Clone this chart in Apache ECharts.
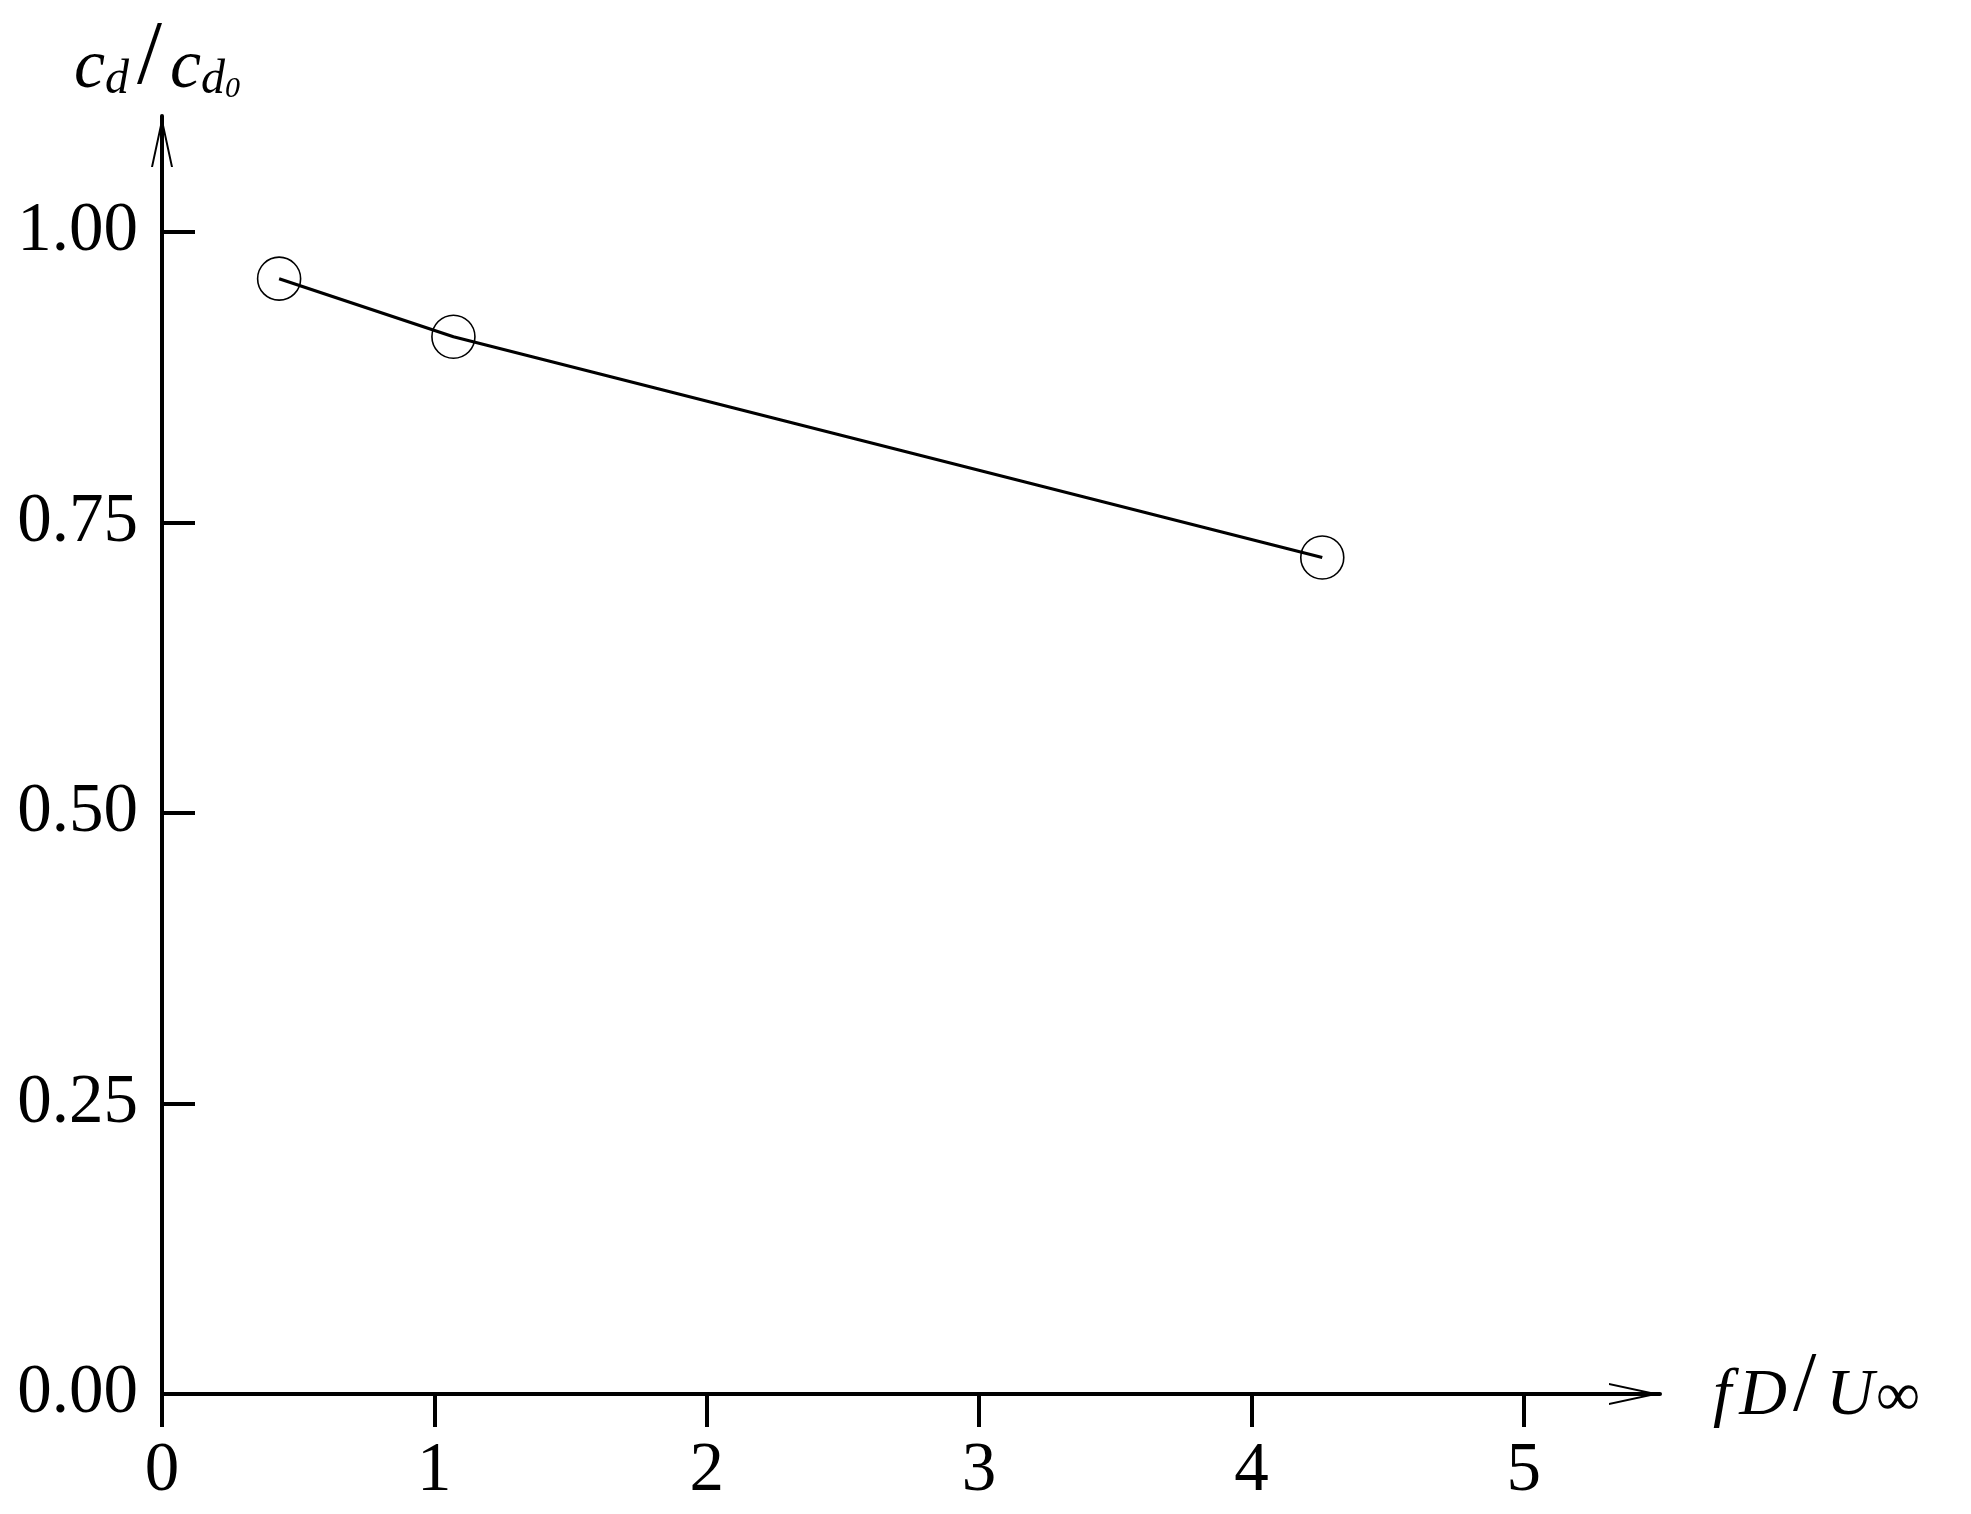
<!DOCTYPE html>
<html>
<head>
<meta charset="utf-8">
<script src="https://cdn.jsdelivr.net/npm/echarts@6/dist/echarts.min.js"></script>
<style>
  html, body { margin: 0; padding: 0; background: #fff; }
  #main { width: 1971px; height: 1514px; }
</style>
</head>
<body>
<div id="main"></div>
<script>
// measured points: reduced frequency vs drag ratio
const fdU = [0.43, 1.07, 4.26];
const cdRatio = [0.96, 0.91, 0.72];
const xTicks = [0, 1, 2, 3, 4, 5];
const yTicks = [0, 0.25, 0.5, 0.75, 1.0];

const FONT = 'Liberation Serif';
// open arrow head, tip at top
const arrowPath = 'path://M11 0L0 51L2 51L11 9.27L20 51L22 51Z';

const points = fdU.map((x, i) => [x, cdRatio[i]]);

const axisLine = {
  onZero: true,
  symbol: ['none', arrowPath],
  symbolSize: [22, 51],
  symbolOffset: [0, -25.5],
  lineStyle: { color: '#000', width: 4 },
};

const chart = echarts.init(document.getElementById('main'));

const option = {
  animation: false,
  backgroundColor: '#fff',
  grid: { left: 162, right: 311, top: 116, bottom: 120 },
  xAxis: {
    type: 'value',
    min: 0,
    max: 5.5,
    name: '{f|f}{i|D}{sl|/}{i|U}{inf|∞}',
    nameLocation: 'end',
    nameGap: 53,
    nameTextStyle: {
      color: '#000',
      fontFamily: FONT,
      padding: [0, 0, 8, 0],
      rich: {
        f: { fontSize: 66, fontStyle: 'italic', fontFamily: FONT, color: '#000', lineHeight: 80, verticalAlign: 'bottom', padding: [0, 8, 0, 0] },
        i: { fontSize: 66, fontStyle: 'italic', fontFamily: FONT, color: '#000', lineHeight: 80, verticalAlign: 'bottom' },
        sl: { fontSize: 84, fontFamily: FONT, color: '#000', lineHeight: 71, verticalAlign: 'bottom', padding: [0, 10, 0, 6] },
        inf: { fontSize: 62, fontFamily: FONT, color: '#000', lineHeight: 36, verticalAlign: 'bottom', padding: [0, 0, 0, 2] },
      },
    },
    axisLine: axisLine,
    axisTick: {
      show: true,
      inside: false,
      length: 33,
      customValues: xTicks,
      lineStyle: { color: '#000', width: 4 },
    },
    axisLabel: {
      customValues: xTicks,
      margin: 43,
      color: '#000',
      fontFamily: FONT,
      fontSize: 69,
      formatter: (v) => String(v),
    },
    splitLine: { show: false },
  },
  yAxis: {
    type: 'value',
    min: 0,
    max: 1.1,
    name: '{c|c}{s|d}{sl|/}{c|c}{s|d}{ss|0}',
    nameLocation: 'end',
    nameGap: 12,
    nameTextStyle: {
      color: '#000',
      fontFamily: FONT,
      padding: [0, 10, 0, 0],
      rich: {
        c: { fontSize: 70, fontStyle: 'italic', fontFamily: FONT, color: '#000', lineHeight: 100, verticalAlign: 'bottom' },
        s: { fontSize: 48, fontStyle: 'italic', fontFamily: FONT, color: '#000', lineHeight: 62.6, verticalAlign: 'bottom' },
        ss: { fontSize: 30, fontStyle: 'italic', fontFamily: FONT, color: '#000', lineHeight: 32.9, verticalAlign: 'bottom' },
        sl: { fontSize: 90, fontFamily: FONT, color: '#000', lineHeight: 91.5, verticalAlign: 'bottom', padding: [0, 8, 0, 8] },
      },
    },
    axisLine: axisLine,
    axisTick: {
      show: true,
      inside: true,
      length: 33,
      customValues: yTicks,
      lineStyle: { color: '#000', width: 4 },
    },
    axisLabel: {
      customValues: yTicks,
      margin: 24,
      color: '#000',
      fontFamily: FONT,
      fontSize: 69,
      formatter: (v) => v.toFixed(2),
    },
    splitLine: { show: false },
  },
  series: [
    {
      type: 'line',
      data: points,
      symbol: 'circle',
      symbolSize: 43,
      showSymbol: true,
      itemStyle: { color: 'rgba(0,0,0,0)', borderColor: '#000', borderWidth: 1.6 },
      lineStyle: { color: '#000', width: 3.2 },
      emphasis: { disabled: true },
    },
  ],
};

chart.setOption(option);
</script>
</body>
</html>
